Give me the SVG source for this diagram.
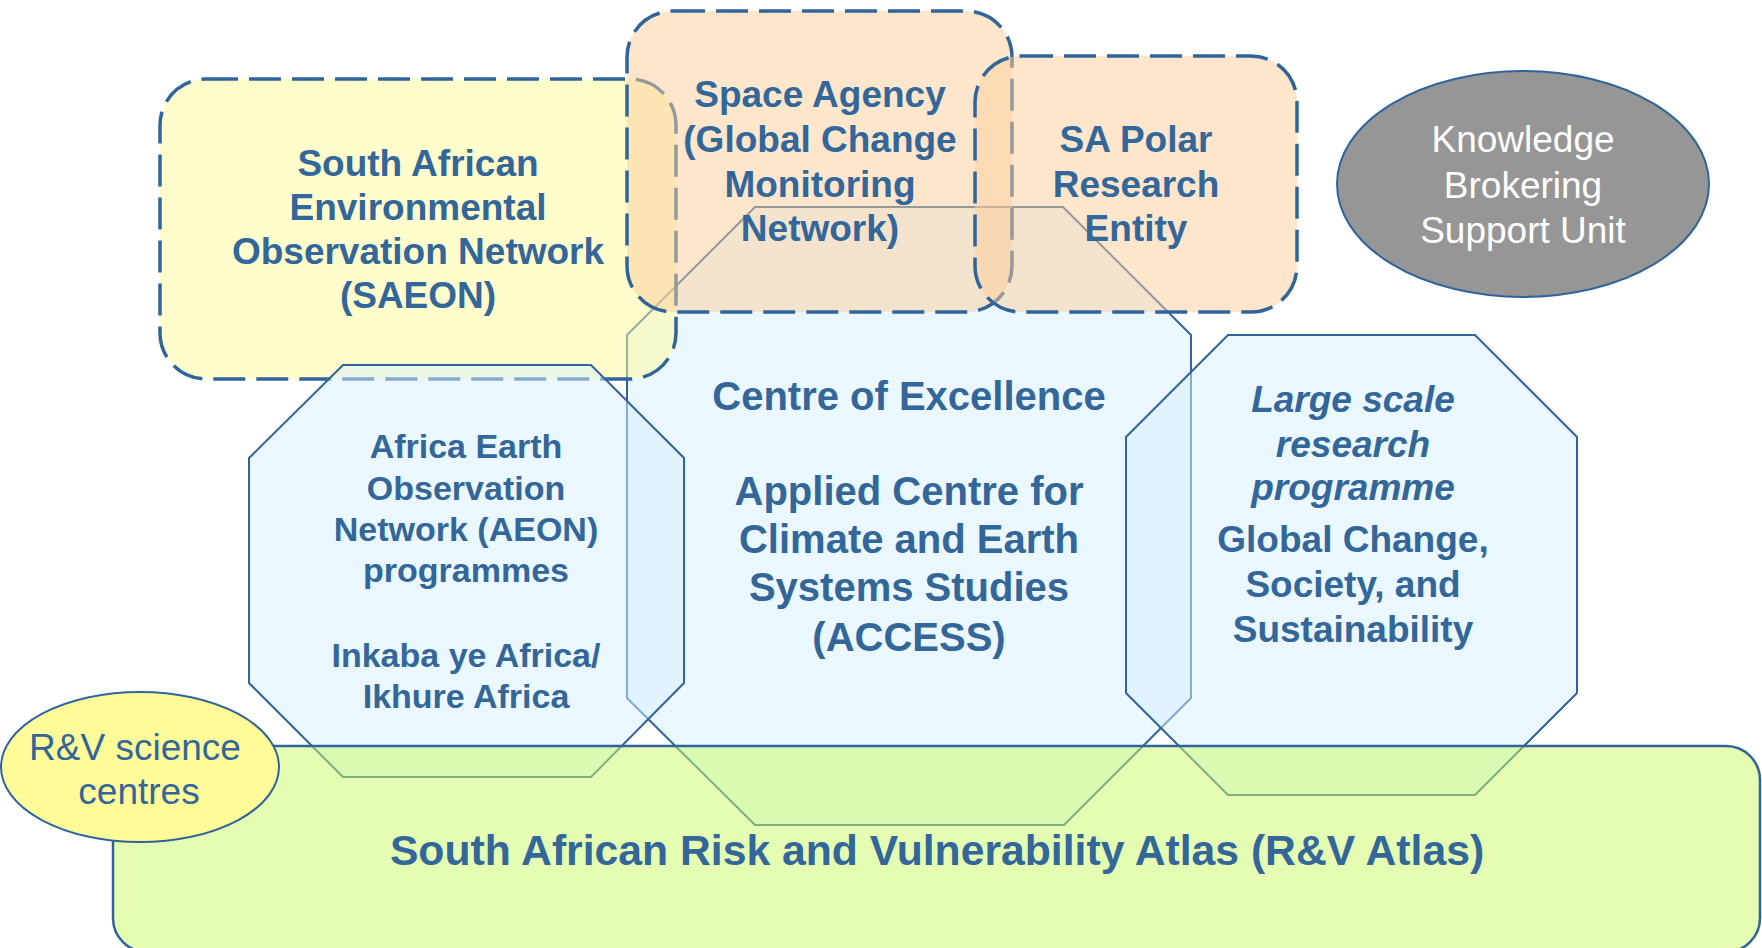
<svg xmlns="http://www.w3.org/2000/svg" width="1762" height="948" viewBox="0 0 1762 948">
  <style>
    .bg { fill: #ffffff; }
    .octagon { fill: #d7efff; fill-opacity: 0.5; stroke: #30649a; stroke-width: 2; }
    .dashed { stroke: #30649a; stroke-width: 3.5; stroke-dasharray: 32 11; }
    .yellow { fill: #fffb99; fill-opacity: 0.5; }
    .peach { fill: #fbcd99; fill-opacity: 0.5; }
    .atlas { fill: #c9fb65; fill-opacity: 0.5; stroke: #30649a; stroke-width: 2.5; }
    .label { font-family: "Liberation Sans", Arial, sans-serif; fill: #336699; text-anchor: middle; }
    .white { fill: #ffffff; }
    .b { font-weight: bold; }
    .bi { font-weight: bold; font-style: italic; }
  </style>
  <rect class="bg" x="0" y="0" width="1762" height="948"/>

  <!-- Centre of Excellence octagon (drawn first, sits beneath the dashed boxes) -->
  <g id="access">
    <path class="octagon" d="M755,207 L1063,207 L1191,335 L1191,698 L1064,825 L755,825 L627,698 L627,335 Z"/>
    <text class="label b" font-size="40" x="909" y="410">Centre of Excellence</text>
    <text class="label b" font-size="40" x="909" y="505">Applied Centre for</text>
    <text class="label b" font-size="40" x="909" y="553">Climate and Earth</text>
    <text class="label b" font-size="40" x="909" y="601">Systems Studies</text>
    <text class="label b" font-size="40" x="909" y="651">(ACCESS)</text>
  </g>

  <!-- SAEON dashed box -->
  <g id="saeon">
    <rect class="yellow dashed" x="160" y="79" width="516" height="300" rx="46" ry="46"/>
    <text class="label b" font-size="37" x="418" y="176">South African</text>
    <text class="label b" font-size="37" x="418" y="220">Environmental</text>
    <text class="label b" font-size="37" x="418" y="264">Observation Network</text>
    <text class="label b" font-size="37" x="418" y="308">(SAEON)</text>
  </g>

  <!-- AEON octagon -->
  <g id="aeon">
    <path class="octagon" d="M343,365 L591,365 L684,458 L684,683 L591,777 L343,777 L249,683 L249,458 Z"/>
    <text class="label b" font-size="34" x="466" y="458">Africa Earth</text>
    <text class="label b" font-size="34" x="466" y="500">Observation</text>
    <text class="label b" font-size="34" x="466" y="541">Network (AEON)</text>
    <text class="label b" font-size="34" x="466" y="582">programmes</text>
    <text class="label b" font-size="34" x="466" y="667">Inkaba ye Africa/</text>
    <text class="label b" font-size="34" x="466" y="708">Ikhure Africa</text>
  </g>

  <!-- Large scale research programme octagon -->
  <g id="gcss">
    <path class="octagon" d="M1228,335 L1475,335 L1577,437 L1577,693 L1475,795 L1228,795 L1126,693 L1126,437 Z"/>
    <text class="label bi" font-size="37" x="1353" y="412">Large scale</text>
    <text class="label bi" font-size="37" x="1353" y="457">research</text>
    <text class="label bi" font-size="37" x="1353" y="500">programme</text>
    <text class="label b" font-size="37" x="1353" y="552">Global Change,</text>
    <text class="label b" font-size="37" x="1353" y="597">Society, and</text>
    <text class="label b" font-size="37" x="1353" y="642">Sustainability</text>
  </g>

  <!-- Space Agency dashed box -->
  <g id="space-agency">
    <rect class="peach dashed" x="627" y="11" width="385" height="301" rx="46" ry="46"/>
    <text class="label b" font-size="37" x="820" y="107">Space Agency</text>
    <text class="label b" font-size="37" x="820" y="152">(Global Change</text>
    <text class="label b" font-size="37" x="820" y="197">Monitoring</text>
    <text class="label b" font-size="37" x="820" y="241">Network)</text>
  </g>

  <!-- SA Polar Research Entity dashed box -->
  <g id="polar">
    <rect class="peach dashed" x="975" y="56" width="322" height="256" rx="46" ry="46"/>
    <text class="label b" font-size="37" x="1136" y="152">SA Polar</text>
    <text class="label b" font-size="37" x="1136" y="197">Research</text>
    <text class="label b" font-size="37" x="1136" y="241">Entity</text>
  </g>

  <!-- Risk and Vulnerability Atlas band (runs off the bottom edge) -->
  <g id="atlas">
    <rect class="atlas" x="113" y="746" width="1647" height="206" rx="34" ry="34"/>
    <text class="label b" font-size="42.7" x="937" y="865">South African Risk and Vulnerability Atlas (R&amp;V Atlas)</text>
  </g>

  <!-- R&V science centres -->
  <g id="science-centres">
    <ellipse cx="140" cy="767" rx="139" ry="75" fill="#fffb99" stroke="#30649a" stroke-width="2"/>
    <text class="label" font-size="37" x="135" y="760">R&amp;V science</text>
    <text class="label" font-size="37" x="139" y="804">centres</text>
  </g>

  <!-- Knowledge Brokering Support Unit -->
  <g id="kbsu">
    <ellipse cx="1523" cy="184" rx="186" ry="113" fill="#969696" stroke="#30649a" stroke-width="2"/>
    <text class="label white" font-size="37" x="1523" y="152">Knowledge</text>
    <text class="label white" font-size="37" x="1523" y="198">Brokering</text>
    <text class="label white" font-size="37" x="1523" y="243">Support Unit</text>
  </g>

  <g id="connectors"/>
</svg>
